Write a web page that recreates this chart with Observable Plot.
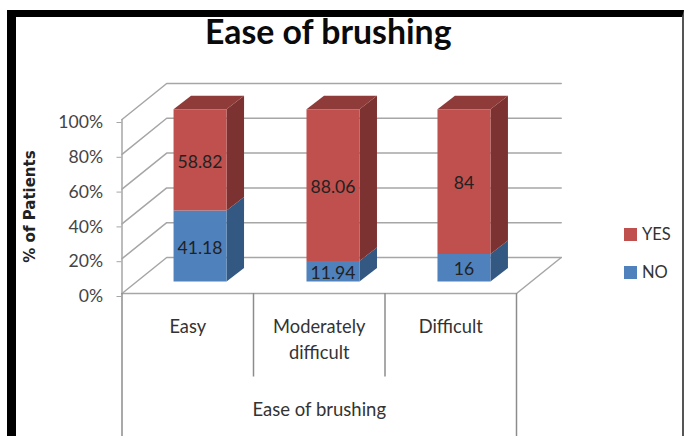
<!DOCTYPE html>
<html>
<head>
<meta charset="utf-8">
<script src="https://cdn.jsdelivr.net/npm/d3@7"></script>
<script src="https://cdn.jsdelivr.net/npm/@observablehq/plot@0.6"></script>
<style>
  html, body { margin: 0; padding: 0; background: #fff; }
  #page { position: relative; width: 684px; height: 436px; overflow: hidden; font-family: Lato, sans-serif; }
  #page svg { position: absolute; left: 0; top: 0; background: transparent; }
  #border { position: absolute; left: 7px; top: 10px; right: 0; bottom: -10px; border-left: 9px solid #000; border-top: 7px solid #000; border-right: 2px solid #555; box-sizing: border-box; }
  #legend { position: absolute; left: 624px; top: 224px; color: #333; font-size: 16.5px; }
  #legend div { position: absolute; left: 0; width: 60px; height: 20px; line-height: 20px; white-space: nowrap; }
  #legend i { display: inline-block; width: 13px; height: 13px; margin-right: 5px; vertical-align: -1px; }
</style>
</head>
<body>
<div id="page"><div id="border"></div><div id="legend"></div></div>
<script>
const categories = ["Easy", "Moderately\ndifficult", "Difficult"];
const yesValues = [58.82, 88.06, 84];
const noValues = [41.18, 11.94, 16];
const yesLabels = ["58.82", "88.06", "84"];
const noLabels = ["41.18", "11.94", "16"];
const percentTicks = [0, 20, 40, 60, 80, 100];
const colors = {
  YES: {front: "#C0504D", side: "#7C3230", top: "#8E3B39"},
  NO: {front: "#4F81BD", side: "#335882"}
};
const grid = "#a6a6a6";

// Oblique projection, in data units (categories on x, percent on y)
const wallX = 0.34, wallY = 20.7;       // depth of the floor
const barLeft = [0.392, 1.403, 2.399];  // left edge of each bar's front face
const barWidth = 0.403;
const barLift = 6.9, barScale = 0.99;   // front face sits back from the axis plane
const sideX = 0.133, sideY = 7.76;      // bar depth

const segments = [];
categories.forEach((c, i) => {
  segments.push({i, key: "NO", from: 0, to: noValues[i], label: noLabels[i]});
  segments.push({i, key: "YES", from: noValues[i], to: noValues[i] + yesValues[i], label: yesLabels[i]});
});
const py = v => barLift + v * barScale;

const polys = [];
segments.forEach((s, n) => {
  const x0 = barLeft[s.i], x1 = x0 + barWidth, y0 = py(s.from), y1 = py(s.to), c = colors[s.key];
  const add = (part, fill, pts) => pts.forEach(([x, y]) => polys.push({id: `${n}${part}`, fill, x, y}));
  add("side", c.side, [[x1, y0], [x1 + sideX, y0 + sideY], [x1 + sideX, y1 + sideY], [x1, y1]]);
  if (s.key === "YES") add("top", c.top, [[x0, y1], [x0 + sideX, y1 + sideY], [x1 + sideX, y1 + sideY], [x1, y1]]);
  add("front", c.front, [[x0, y0], [x1, y0], [x1, y1], [x0, y1]]);
});

const gridLines = [];
percentTicks.forEach(t => {
  gridLines.push({id: t, x: 0, y: t}, {id: t, x: wallX, y: t + wallY}, {id: t, x: 3 + wallX, y: t + wallY});
});
gridLines.push({id: "floor", x: 3, y: 0}, {id: "floor", x: 3 + wallX, y: wallY});

const plot = Plot.plot({
  width: 684, height: 436,
  marginLeft: 121.5, marginRight: 168, marginTop: 119, marginBottom: 143,
  style: {background: "transparent", fontFamily: "Lato, sans-serif"},
  x: {type: "linear", domain: [0, 3]},
  y: {type: "linear", domain: [0, 100]},
  marks: [
    Plot.line(gridLines, {x: "x", y: "y", z: "id", stroke: grid, strokeWidth: 1.5}),
    Plot.ruleY([0], {x1: 0, x2: 3, stroke: grid, strokeWidth: 1.5}),
    Plot.ruleX([0], {y1: 0, y2: 100, stroke: grid, strokeWidth: 1.5}),
    Plot.ruleX([0, 3], {y1: 0, y2: -90, stroke: "#8c8c8c", strokeWidth: 1.5}),
    Plot.ruleX([1, 2], {y1: 0, y2: -48, stroke: "#8c8c8c", strokeWidth: 1.5}),
    Plot.line(polys, {x: "x", y: "y", z: "id", fill: "fill", stroke: "none"}),
    Plot.text(segments, {
      x: d => barLeft[d.i] + barWidth / 2,
      y: d => py((d.from + d.to) / 2),
      text: "label", dy: 2, fontSize: 17.6, fill: "#222"
    }),
    Plot.axisY({
      ticks: percentTicks, tickFormat: d => d + "%", tickSize: 5, tickPadding: 14,
      stroke: grid, fill: "#444", fontSize: 17.6, dy: 3, label: null
    }),
    Plot.axisX({
      ticks: [0.5, 1.5, 2.5], tickFormat: d => categories[Math.floor(d)], tickSize: 0, tickPadding: 22,
      fill: "#333", fontSize: 18.3, lineHeight: 1.38, label: null
    }),
    Plot.text(["Ease of brushing"], {frameAnchor: "bottom", dy: 122, fontSize: 18.5, fill: "#333"}),
    Plot.text(["% of Patients"], {frameAnchor: "left", textAnchor: "middle", dx: -91.5, rotate: -90, fontFamily: "DejaVu Sans", fontSize: 15, fontWeight: "bold", fill: "#222"}),
    Plot.text(["Ease of brushing"], {frameAnchor: "top", dy: -100, dx: 9, fontSize: 33.8, fontWeight: "bold", fill: "#0a0a0a"})
  ]
});
document.getElementById("page").appendChild(plot);

const legend = document.getElementById("legend");
[["YES", colors.YES.front, 0], ["NO", colors.NO.front, 38]].forEach(([name, col, top]) => {
  const row = document.createElement("div");
  row.style.top = top + "px";
  const sw = document.createElement("i");
  sw.style.background = col;
  row.appendChild(sw);
  row.appendChild(document.createTextNode(name));
  legend.appendChild(row);
});
</script>
</body>
</html>
